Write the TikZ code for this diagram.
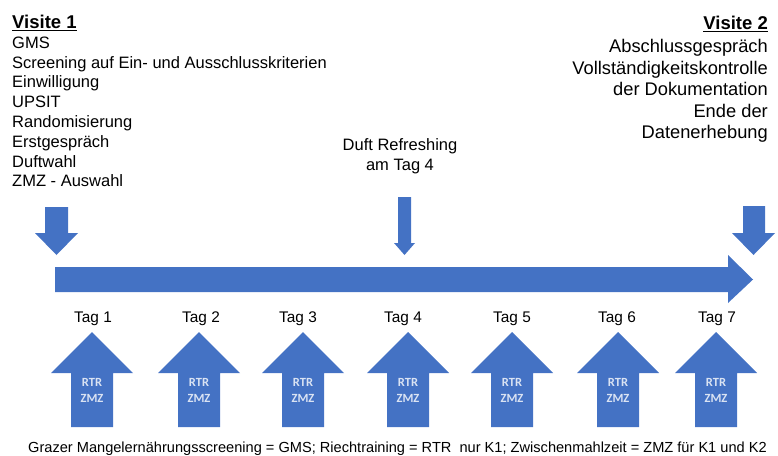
\documentclass[tikz,border=0pt]{standalone}
\usepackage{fontspec}
\setmainfont{Liberation Sans}
\newfontfamily\boxfont{Carlito}
\usetikzlibrary{positioning}
\definecolor{timeblue}{HTML}{4472C4}
\definecolor{boxtext}{HTML}{DAE3F3}

\begin{document}
\begin{tikzpicture}[x=1pt,y=-1pt,
    head/.style={inner sep=0pt,anchor=base,font=\fontsize{18.5}{22}\selectfont\bfseries},
    listtext/.style={inner sep=0pt,anchor=base west,font=\fontsize{16.5}{20}\selectfont},
    endtext/.style={inner sep=0pt,anchor=base east,font=\fontsize{18.3}{22}\selectfont},
    daytext/.style={inner sep=0pt,anchor=base,font=\fontsize{15.4}{18}\selectfont},
    intext/.style={inner sep=0pt,anchor=base,text=boxtext,font=\boxfont\fontsize{12.5}{14}\selectfont\bfseries}]
\useasboundingbox (0,0) rectangle (778,455);

% Visite 1
\node[head,anchor=base west] (visit1) at (12,28.3) {\underline{Visite 1}};
\foreach \entry [count=\i] in {GMS, Screening auf Ein- und Ausschlusskriterien, Einwilligung, UPSIT,
    Randomisierung, Erstgespräch, Duftwahl, ZMZ - Auswahl}
  \node[listtext] (v1-\i) at (12,28.5+19.8*\i) {\entry};

% Visite 2
\node[head,anchor=base east] (visit2) at (768,29.5) {\underline{Visite 2}};
\foreach \entry [count=\i] in {Abschlussgespräch, Vollständigkeitskontrolle, der Dokumentation,
    Ende der, Datenerhebung}
  \node[endtext] (v2-\i) at (768,30.9+21.6*\i) {\entry};

% Duft Refreshing
\node[listtext,anchor=base] (duft) at (400,150.5) {Duft Refreshing};
\node[listtext,anchor=base] (duftday) at (400,170.5) {am Tag 4};

% Down arrows
\fill[timeblue] (45,207) -- (68,207) -- (68,233) -- (78,233) -- (56.5,255)
  -- (35,233) -- (45,233) -- cycle;
\fill[timeblue] (398,197) -- (411,197) -- (411,243) -- (415,243) -- (404.5,255)
  -- (394,243) -- (398,243) -- cycle;
\fill[timeblue] (743,206) -- (765,206) -- (765,233) -- (775,233) -- (753.5,255)
  -- (732,233) -- (743,233) -- cycle;

% Timeline
\fill[timeblue] (55,267) -- (728,267) -- (728,255) -- (753,279.5) -- (728,303)
  -- (728,292) -- (55,292) -- cycle;

% Days
\foreach \a/\t [count=\i] in {92/93, 199/201, 303/298, 408/403, 512/512, 618/617, 716/717} {
  \node[daytext] (tag\i) at (\t,322.5) {Tag \i};
  \fill[timeblue] (\a,332) -- ++(41,41) -- ++(-20,0) -- ++(0,54) -- ++(-42,0)
    -- ++(0,-54) -- ++(-20,0) -- cycle;
  \node[intext] (rtr\i) at (\a,386) {RTR};
  \node[intext] (zmz\i) at (\a,402) {ZMZ};
}

% Legend
\node[inner sep=0pt,anchor=base west,font=\fontsize{14.6}{16}\selectfont] (legend) at (28,452)
  {Grazer Mangelernährungsscreening = GMS; Riechtraining = RTR\ \ nur K1; Zwischenmahlzeit = ZMZ für K1 und K2};
\end{tikzpicture}
\end{document}
